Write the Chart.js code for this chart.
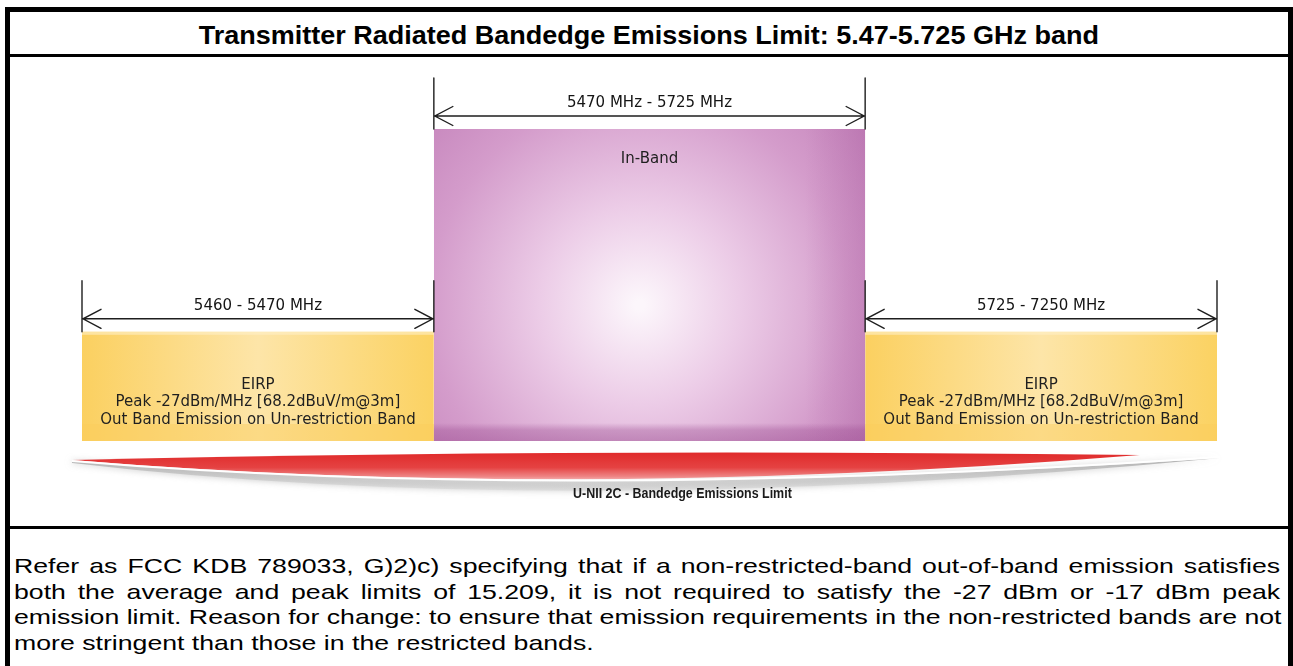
<!DOCTYPE html>
<html><head><meta charset="utf-8">
<script src="https://cdn.jsdelivr.net/npm/chart.js@4.4.1/dist/chart.umd.min.js"></script>
<style>
html,body{margin:0;padding:0;background:#fff;}
body{width:1293px;height:666px;overflow:hidden;position:relative;font-family:"Liberation Sans",Arial,sans-serif;}
#frame{position:absolute;left:5px;top:7px;width:1288px;height:740px;border:5px solid #000;box-sizing:border-box;}
#title{height:45px;border-bottom:3px solid #000;display:flex;align-items:center;justify-content:center;font-weight:bold;font-size:25px;color:#000;padding-top:4px;box-sizing:border-box;}
#title span{display:inline-block;transform:scaleX(1.08);white-space:nowrap;}
#mid{height:469px;border-bottom:3px solid #000;}
#para{padding:24px 0 0 4px;font-size:21px;line-height:25.7px;color:#000;}
#para span{display:block;width:997px;transform-origin:0 0;transform:scaleX(1.27);text-align:justify;text-align-last:justify;white-space:nowrap;}
#para span.last{text-align-last:left;}
#c{position:absolute;left:0;top:0;z-index:2;}
</style></head>
<body>
<div id="frame">
  <div id="title"><span>Transmitter Radiated Bandedge Emissions Limit: 5.47-5.725 GHz band</span></div>
  <div id="mid"></div>
  <div id="para">
    <span>Refer as FCC KDB 789033, G)2)c) specifying that if a non-restricted-band out-of-band emission satisfies</span>
    <span>both the average and peak limits of 15.209, it is not required to satisfy the -27 dBm or -17 dBm peak</span>
    <span>emission limit. Reason for change: to ensure that emission requirements in the non-restricted bands are not</span>
    <span class="last">more stringent than those in the restricted bands.</span>
  </div>
</div>
<canvas id="c" width="1293" height="666"></canvas>
<script>
// ---- data ----
const bandNames  = ['Out-Band (lower)', 'In-Band', 'Out-Band (upper)'];
const bandRanges = ['5460 - 5470 MHz', '5470 MHz - 5725 MHz', '5725 - 7250 MHz'];
const bandStart  = [0, 3.1, 6.9];   // schematic position along the diagram axis
const bandEnd    = [3.1, 6.9, 10];
const bandLevel  = [35, 100, 35];   // relative limit height
const bandText   = [
  ['EIRP', 'Peak -27dBm/MHz [68.2dBuV/m@3m]', 'Out Band Emission on Un-restriction Band'],
  ['In-Band'],
  ['EIRP', 'Peak -27dBm/MHz [68.2dBuV/m@3m]', 'Out Band Emission on Un-restriction Band']
];
const bottomLabel = 'U-NII 2C - Bandedge Emissions Limit';

function bandPx(chart, i){
  const xs = chart.scales.x, ys = chart.scales.y;
  return {x0: xs.getPixelForValue(bandStart[i]), x1: xs.getPixelForValue(bandEnd[i]),
          yt: ys.getPixelForValue(bandLevel[i]), yb: ys.getPixelForValue(0)};
}

function fillFor(ctx){
  const chart = ctx.chart;
  if (!chart.chartArea || !chart.scales.x) return '#fbd87a';
  const i = ctx.datasetIndex;
  const p = bandPx(chart, i);
  const c = chart.ctx;
  if (bandLevel[i] === 100) {
    const cx = (p.x0 + p.x1) / 2 - 10, cy = (p.yt + p.yb) / 2 + 20;
    const g = c.createRadialGradient(cx, cy, 5, cx, cy, 320);
    g.addColorStop(0, '#fcf6fb');
    g.addColorStop(0.3, '#ecccE7');
    g.addColorStop(0.65, '#d49ccb');
    g.addColorStop(1, '#c07cb6');
    return g;
  }
  const g = c.createLinearGradient(p.x0, 0, p.x1, 0);
  g.addColorStop(0, '#fbd060');
  g.addColorStop(0.5, '#fde5a8');
  g.addColorStop(1, '#fbd262');
  return g;
}

function sText(c, txt, x, y, font, color, sx){
  c.save();
  c.font = font; c.fillStyle = color; c.textAlign = 'center'; c.textBaseline = 'middle';
  c.translate(x, y); c.scale(sx || 1, 1);
  c.fillText(txt, 0, 0);
  c.restore();
}

const decor = {
  id: 'decor',
  afterDatasetsDraw(chart){
    const c = chart.ctx;
    const xs = chart.scales.x, ys = chart.scales.y;
    // bottom shading strips
    for (let i = 0; i < bandStart.length; i++){
      const p = bandPx(chart, i);
      c.save();
      if (bandLevel[i] === 100){
        const g = c.createLinearGradient(0, p.yb - 18, 0, p.yb);
        g.addColorStop(0, 'rgba(150,70,140,0)');
        g.addColorStop(0.4, 'rgba(150,70,140,0.35)');
        g.addColorStop(1, 'rgba(150,70,140,0.45)');
        c.fillStyle = g; c.fillRect(p.x0, p.yb - 18, p.x1 - p.x0, 18);
        const g2 = c.createLinearGradient(p.x1 - 60, 0, p.x1, 0);
        g2.addColorStop(0, 'rgba(160,80,150,0)');
        g2.addColorStop(1, 'rgba(160,80,150,0.25)');
        c.fillStyle = g2; c.fillRect(p.x1 - 60, p.yt, 60, p.yb - p.yt);
      } else {
        c.fillStyle = 'rgba(250,205,90,0.45)';
        c.fillRect(p.x0, p.yb - 17, p.x1 - p.x0, 17);
        c.fillStyle = 'rgba(255,240,200,0.6)';
        c.fillRect(p.x0, p.yt, p.x1 - p.x0, 3);
      }
      c.restore();
    }
    // dimension arrows
    c.save();
    c.strokeStyle = '#1e1e1e'; c.lineWidth = 1.4; c.lineCap = 'round';
    for (let i = 0; i < bandStart.length; i++){
      const p = bandPx(chart, i);
      const ay = p.yt - 13;
      c.beginPath();
      c.moveTo(p.x0, ay - 38); c.lineTo(p.x0, p.yt);
      c.moveTo(p.x1, ay - 38); c.lineTo(p.x1, p.yt);
      c.moveTo(p.x0, ay); c.lineTo(p.x1, ay);
      c.moveTo(p.x0 + 19, ay - 9.5); c.lineTo(p.x0 + 1, ay); c.lineTo(p.x0 + 19, ay + 9.5);
      c.moveTo(p.x1 - 19, ay - 9.5); c.lineTo(p.x1 - 1, ay); c.lineTo(p.x1 - 19, ay + 9.5);
      c.stroke();
      sText(c, bandRanges[i], (p.x0 + p.x1) / 2, ay - 13, '15px "DejaVu Sans"', '#151515', 1);
      const lines = bandText[i];
      const startY = bandLevel[i] === 100 ? p.yt + 30 : p.yt + 53;
      lines.forEach((t, k) => sText(c, t, (p.x0 + p.x1) / 2, startY + k * 17.5, '15px "DejaVu Sans"', '#1f1f1f', 1));
    }
    c.restore();
    // swoosh under the bands
    const L = xs.getPixelForValue(bandStart[0]) - 10;
    const R = xs.getPixelForValue(9.32);
    const RR = xs.getPixelForValue(bandEnd[2]) + 3;
    const yb = ys.getPixelForValue(0);
    const M = (L + R) / 2 - 40;
    c.save();
    // soft grey shadow
    c.shadowColor = 'rgba(130,130,130,0.7)'; c.shadowBlur = 7;
    const sg = c.createLinearGradient(0, yb + 20, 0, yb + 52);
    sg.addColorStop(0, 'rgba(170,170,170,0.85)');
    sg.addColorStop(1, 'rgba(215,215,215,0.5)');
    c.fillStyle = sg;
    c.beginPath();
    c.moveTo(L, yb + 20);
    c.quadraticCurveTo(M, yb + 62, RR, yb + 17);
    c.quadraticCurveTo(M, yb + 80, L, yb + 22);
    c.closePath(); c.fill();
    c.restore();
    c.save();
    const rg = c.createLinearGradient(0, yb + 10, 0, yb + 40);
    rg.addColorStop(0, '#df2828');
    rg.addColorStop(0.55, '#e54242');
    rg.addColorStop(0.85, '#ee8585');
    rg.addColorStop(1, '#f6bcbc');
    c.fillStyle = rg;
    c.beginPath();
    c.moveTo(L, yb + 19);
    c.quadraticCurveTo(M, yb + 7, R, yb + 14);
    c.quadraticCurveTo(M, yb + 60, L, yb + 19);
    c.closePath(); c.fill();
    c.strokeStyle = '#ffffff'; c.lineWidth = 2;
    c.beginPath(); c.moveTo(L, yb + 20); c.quadraticCurveTo(M, yb + 61, RR, yb + 16); c.stroke();
    c.restore();
    sText(c, bottomLabel, xs.getPixelForValue(5.29), yb + 53, 'bold 14px "Liberation Sans"', '#1a1a1a', 0.89);
  }
};

new Chart(document.getElementById('c'), {
  type: 'line',
  data: {
    datasets: bandNames.map((n, i) => ({
      label: n,
      data: [{x: bandStart[i], y: bandLevel[i]}, {x: bandEnd[i], y: bandLevel[i]}],
      fill: 'origin',
      backgroundColor: fillFor,
      borderColor: 'rgba(0,0,0,0)',
      borderWidth: 0,
      pointRadius: 0,
      tension: 0
    }))
  },
  options: {
    responsive: false, animation: false, devicePixelRatio: 1,
    layout: {padding: {left: 82, right: 76, top: 129, bottom: 225}},
    scales: {
      x: {type: 'linear', min: 0, max: 10, display: false},
      y: {min: 0, max: 100, display: false}
    },
    plugins: {legend: {display: false}, tooltip: {enabled: false}}
  },
  plugins: [decor]
});
</script>
</body></html>
